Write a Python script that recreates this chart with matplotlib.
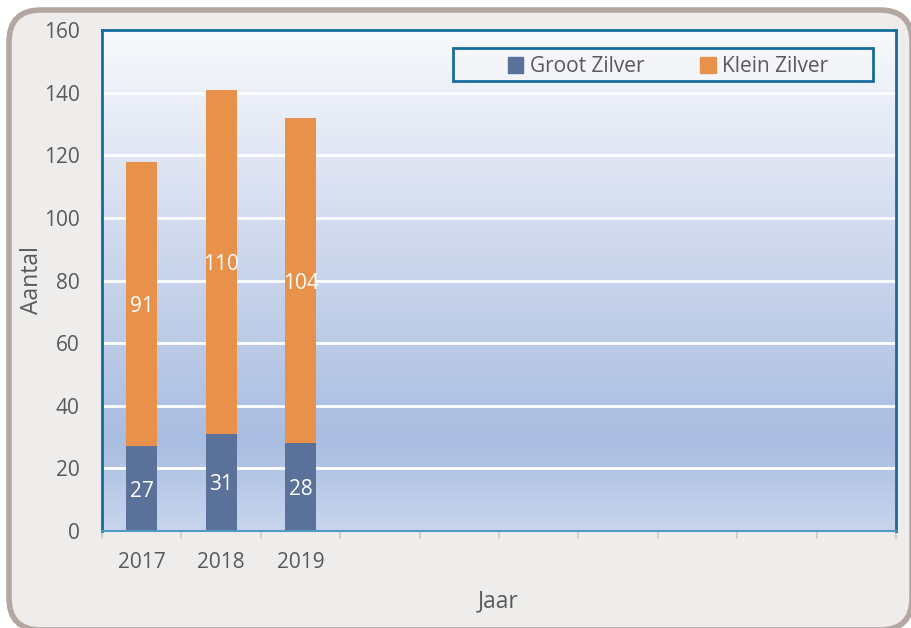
import numpy as np
import matplotlib
matplotlib.use('Agg')
import matplotlib.pyplot as plt
from matplotlib.colors import LinearSegmentedColormap
from matplotlib.patches import FancyBboxPatch, Rectangle, Patch

plt.rcParams['font.family'] = ['Open Sans', 'DejaVu Sans']

# data
years = ['2017', '2018', '2019', '', '', '', '', '', '', '']
groot = [27, 31, 28]
klein = [91, 110, 104]

c_groot = '#5a7199'
c_klein = '#e8914a'
txt = '#595959'

fig = plt.figure(figsize=(9.11, 6.28), dpi=100)
fig.patch.set_facecolor('white')

# rounded outer frame (pixel coords)
frame = FancyBboxPatch((9, -2), 903, 620, boxstyle='round,pad=0,rounding_size=32',
                       transform=None, facecolor='#eeedeb', edgecolor='#b4a7a1',
                       linewidth=4, zorder=-10)
fig.patches.append(frame)

ax = fig.add_axes([0.112, 0.1545, 0.8715, 0.7975])
ax.set_zorder(1)
ax.set_xlim(-0.5, len(years) - 0.5)
ax.set_ylim(0, 160)

# gradient background
cmap = LinearSegmentedColormap.from_list('bg', [(0, '#c8d5ed'), (0.18, '#a9bde1'),
                                                (0.55, '#cdd7ec'), (1.0, '#f8f9fc')])
grad = np.linspace(0, 1, 256).reshape(-1, 1)
ax.imshow(grad, cmap=cmap, aspect='auto', origin='lower',
          extent=[-0.5, len(years) - 0.5, 0, 160], zorder=0)

for v in range(20, 161, 20):
    ax.axhline(v, color='white', lw=2, zorder=1)

x = np.arange(len(groot))
ax.bar(x, groot, width=0.39, color=c_groot, zorder=2)
ax.bar(x, klein, width=0.39, bottom=groot, color=c_klein, zorder=2)

for i in range(len(groot)):
    ax.text(x[i], groot[i] / 2, str(groot[i]), ha='center', va='center_baseline',
            color='white', fontsize=15, zorder=3)
    ax.text(x[i], groot[i] + klein[i] / 2, str(klein[i]), ha='center', va='center_baseline',
            color='white', fontsize=15, zorder=3)

ax.set_yticks(range(0, 161, 20))
ax.tick_params(axis='y', length=0, labelsize=15, labelcolor=txt, pad=16)
ax.set_xticks(range(len(years)))
ax.set_xticklabels(years)
ax.tick_params(axis='x', which='major', length=0, labelsize=15, labelcolor=txt, pad=15)
ax.set_xticks(np.arange(-0.5, len(years)), minor=True)
ax.tick_params(axis='x', which='minor', length=6, width=1.5, color='#d3cfcc')

for s in ['left', 'top', 'right']:
    ax.spines[s].set_color('#166d9c')
    ax.spines[s].set_linewidth(2)
ax.spines['bottom'].set_color('#4d9ac6')
ax.spines['bottom'].set_linewidth(1.5)

ax.set_ylabel('Aantal', fontsize=16.5, color=txt, va='center')
ax.yaxis.set_label_coords(-0.088, 0.501)
ax.set_xlabel('Jaar', fontsize=16.5, color=txt, va='center')
ax.xaxis.set_label_coords(0.499, -0.14)

# legend box
ax.add_patch(Rectangle((0.442, 0.898), 0.529, 0.066, transform=ax.transAxes,
                       facecolor='#f4f5f9', edgecolor='#166d9c', lw=2, zorder=4))
handles = [Patch(color=c_groot, label='Groot Zilver'), Patch(color=c_klein, label='Klein Zilver')]
leg = ax.legend(handles=handles, loc='center', bbox_to_anchor=(0.713, 0.927), ncol=2,
                frameon=False, fontsize=15, handlelength=0.75, handleheight=0.75,
                handletextpad=0.3, columnspacing=2.7, labelcolor=txt)
leg.set_zorder(5)

fig.savefig('out.png', dpi=100)
